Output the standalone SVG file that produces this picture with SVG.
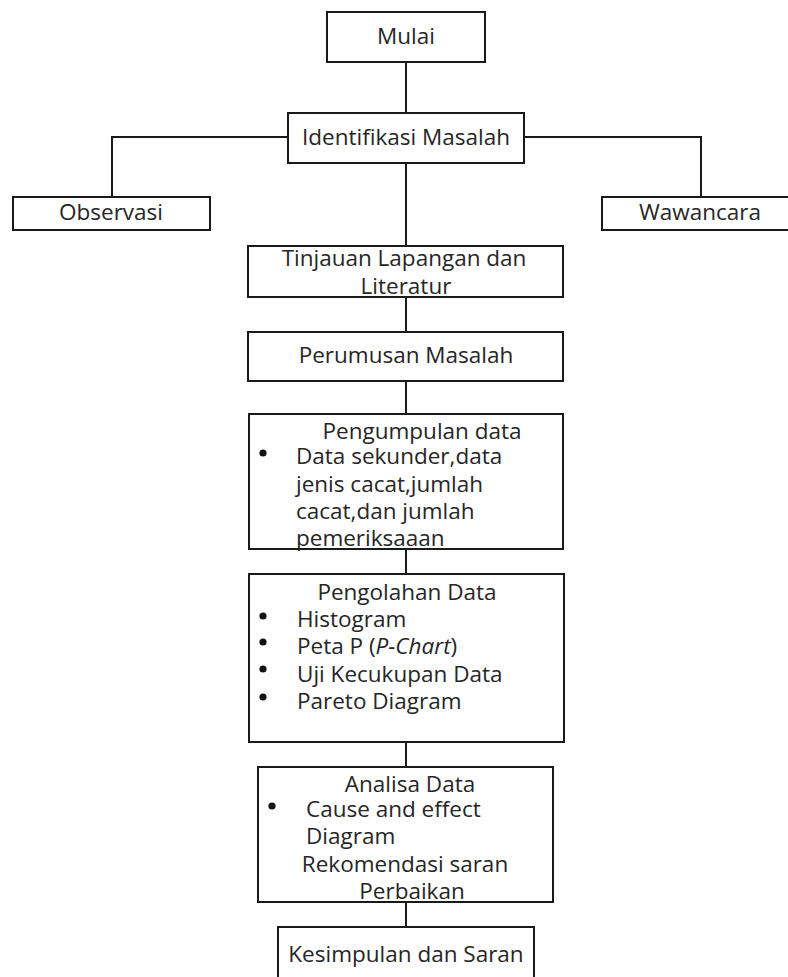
<svg xmlns="http://www.w3.org/2000/svg" width="788" height="977" viewBox="0 0 788 977">
<style>
.box{fill:#fff;stroke:#1a1a1a;stroke-width:2}
.ln{fill:none;stroke:#1a1a1a;stroke-width:2}
text{font-family:"Open Sans","DejaVu Sans",sans-serif;font-size:22.5px;fill:#262626}
.c{text-anchor:middle}
.dot{fill:#111}
</style>
<rect width="788" height="977" fill="#fff"/>
<g id="connectors">
<path class="ln" d="M406 62V113"/>
<path class="ln" d="M288 137H112V197"/>
<path class="ln" d="M524 137H701V197"/>
<path class="ln" d="M406 163V246"/>
<path class="ln" d="M406 297V332"/>
<path class="ln" d="M406 381V414"/>
<path class="ln" d="M406 549V574"/>
<path class="ln" d="M406 742V767"/>
<path class="ln" d="M406 902V927"/>
</g>
<g id="mulai"><rect class="box" x="327" y="12" width="158" height="50"/><text class="c" x="406" y="44">Mulai</text></g>
<g id="identifikasi"><rect class="box" x="288" y="113" width="236" height="50"/><text class="c" x="406" y="145">Identifikasi Masalah</text></g>
<g id="observasi"><rect class="box" x="13" y="197" width="197" height="33"/><text class="c" x="111" y="220">Observasi</text></g>
<g id="wawancara"><rect class="box" x="602" y="197" width="200" height="33"/><text class="c" x="700" y="220">Wawancara</text></g>
<g id="tinjauan"><rect class="box" x="248" y="246" width="315" height="51"/><text class="c" x="404" y="266">Tinjauan Lapangan dan</text><text class="c" x="406" y="294">Literatur</text></g>
<g id="perumusan"><rect class="box" x="248" y="332" width="315" height="49"/><text class="c" x="406" y="363">Perumusan Masalah</text></g>
<g id="pengumpulan"><rect class="box" x="249" y="414" width="314" height="135"/>
<text class="c" x="422" y="439">Pengumpulan data</text>
<circle class="dot" cx="263" cy="453" r="3.6"/>
<text x="296" y="464">Data sekunder,data</text>
<text x="296" y="492">jenis cacat,jumlah</text>
<text x="296" y="519">cacat,dan jumlah</text>
<text x="296" y="546">pemeriksaaan</text></g>
<g id="pengolahan"><rect class="box" x="249" y="574" width="315" height="168"/>
<text class="c" x="407" y="600">Pengolahan Data</text>
<circle class="dot" cx="263" cy="616" r="3.6"/><text x="297" y="627">Histogram</text>
<circle class="dot" cx="263" cy="642" r="3.6"/><text x="297" y="654">Peta P (<tspan font-style="italic">P-Chart</tspan>)</text>
<circle class="dot" cx="263" cy="669" r="3.6"/><text x="297" y="682">Uji Kecukupan Data</text>
<circle class="dot" cx="263" cy="697" r="3.6"/><text x="297" y="709">Pareto Diagram</text></g>
<g id="analisa"><rect class="box" x="258" y="767" width="295" height="135"/>
<text class="c" x="410" y="792">Analisa Data</text>
<circle class="dot" cx="272" cy="806" r="3.6"/><text x="306" y="817">Cause and effect</text>
<text x="306" y="844">Diagram</text>
<text class="c" x="405" y="872">Rekomendasi saran</text>
<text class="c" x="412" y="899">Perbaikan</text></g>
<g id="kesimpulan"><rect class="box" x="278" y="927" width="256" height="60"/><text class="c" x="406" y="962">Kesimpulan dan Saran</text></g>
</svg>
